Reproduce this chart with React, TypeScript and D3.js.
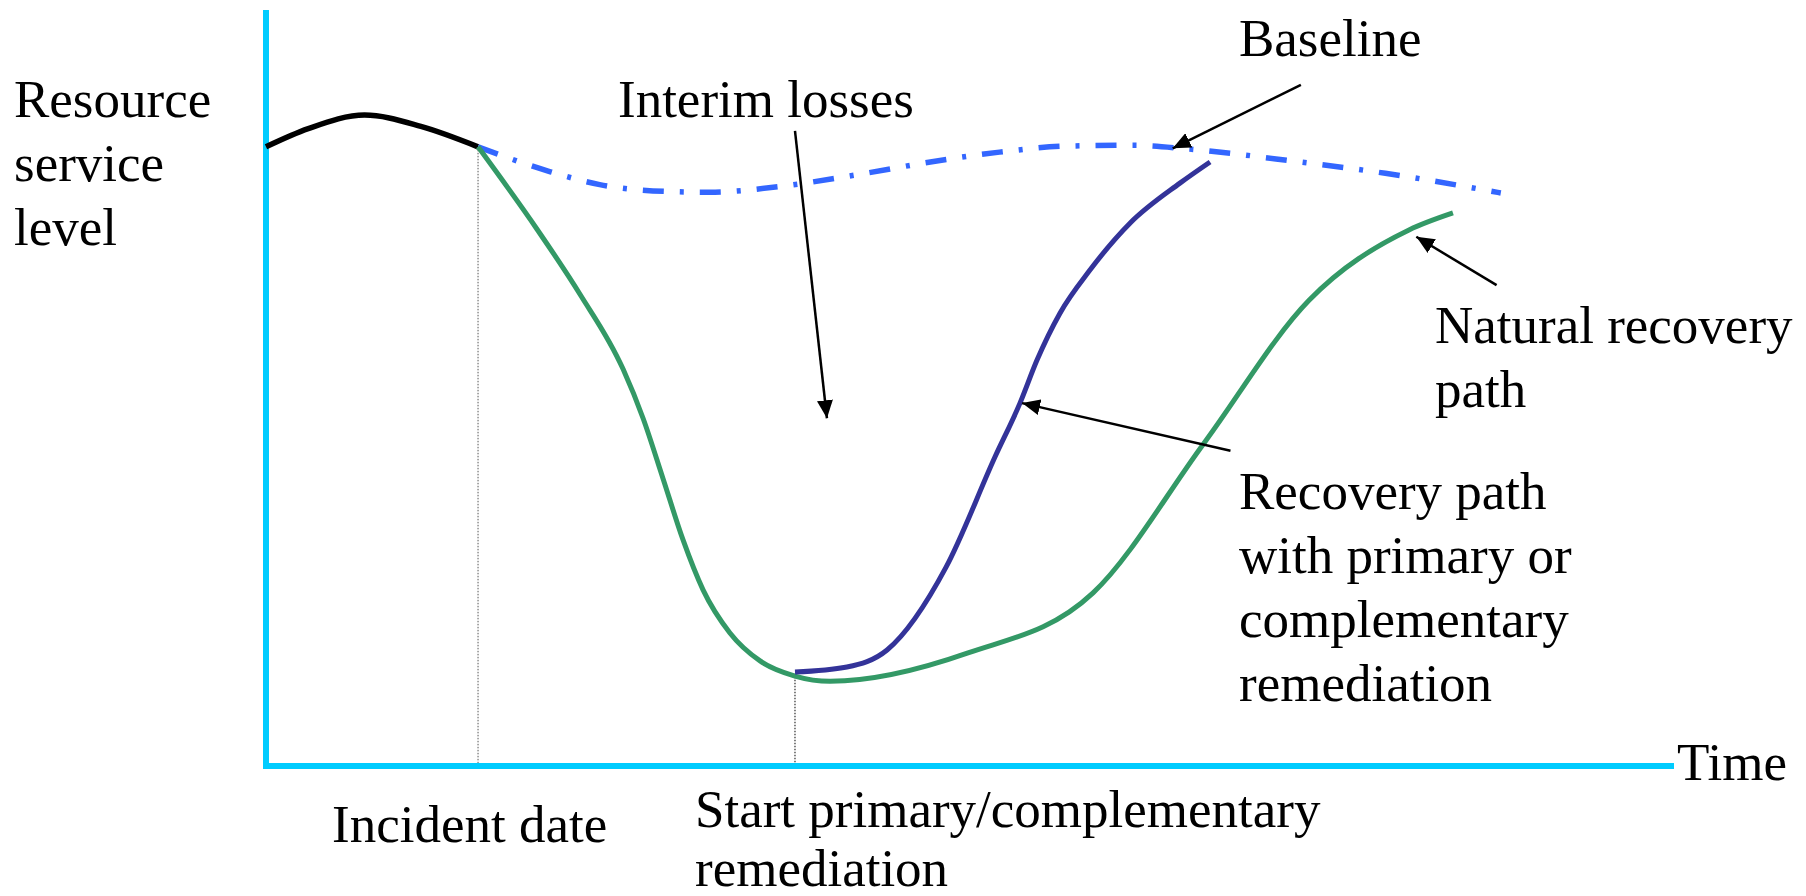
import React from 'react';
import * as d3 from 'd3';

const W = 1806;
const H = 896;

// time runs 0..100 along the x axis, resource service level 0..100 up the y axis
const preIncident = [[0, 81.9], [3, 84.3], [7, 86.1], [11, 84.6], [15.06, 81.9]];

const baseline = [
  [15.06, 81.9], [20.2, 78.6], [23.7, 76.9], [28.5, 76.0], [31.5, 75.9], [36.7, 76.7],
  [41.3, 78.0], [48.2, 80.2], [52.1, 81.2], [56.9, 82.0], [61.6, 82.1], [65.6, 81.6],
  [73.4, 79.9], [79.5, 78.4], [87.7, 75.8],
];

const naturalRecovery = [
  [15.06, 81.9], [19.25, 71.0], [22.3, 62.4], [25.36, 52.5], [26.78, 46.0], [28.2, 38.0],
  [29.62, 29.9], [31.04, 23.3], [32.95, 17.6], [35.09, 13.9], [37.57, 11.9], [40.06, 11.2],
  [49.86, 14.95], [58.74, 22.9], [66.62, 42.7], [74.08, 61.6], [81.18, 70.9], [84.3, 73.15],
];

const remediatedRecovery = [
  [37.57, 12.43], [41.26, 13.1], [44.11, 15.34], [48.3, 26.3], [51.78, 40.9], [53.55, 48.0],
  [54.76, 53.7], [56.39, 59.9], [58.52, 65.6], [61.36, 71.8], [64.91, 77.1], [67.05, 79.9],
];

const incidentDate = 15.06;
const remediationStart = 37.57;

// annotation arrows, tail -> tip, same units as the curves
const arrows = [
  { from: [73.5, 90.1], to: [64.4, 81.7] },  // Baseline
  { from: [37.57, 84.0], to: [39.84, 46.0] }, // Interim losses
  { from: [68.5, 41.7], to: [53.7, 48.0] },  // Recovery path with remediation
  { from: [87.4, 63.6], to: [81.7, 70.0] },  // Natural recovery path
];

const labels = [
  { lines: ['Resource', 'service', 'level'], x: 14, y: 117 },
  { lines: ['Interim losses'], x: 618, y: 117 },
  { lines: ['Baseline'], x: 1239, y: 56 },
  { lines: ['Natural recovery', 'path'], x: 1435, y: 343 },
  { lines: ['Recovery path', 'with primary or', 'complementary', 'remediation'], x: 1239, y: 509 },
  { lines: ['Time'], x: 1677, y: 780 },
  { lines: ['Incident date'], x: 332, y: 842 },
  { lines: ['Start primary/complementary', 'remediation'], x: 695, y: 827 },
];

export default function App() {
  const x = d3.scaleLinear().domain([0, 100]).range([266, 1674]);
  const y = d3.scaleLinear().domain([0, 100]).range([766, 10]);

  const line = d3.line<number[]>()
    .x(d => x(d[0]))
    .y(d => y(d[1]))
    .curve(d3.curveMonotoneX);

  const lineH = 64;
  const font = { fontFamily: "'Liberation Serif', 'Times New Roman', serif", fontSize: 53 };

  return (
    <svg width={W} height={H} style={{ position: 'absolute', left: 0, top: 0, background: '#fff' }}>
      <defs>
        <marker id="head" markerUnits="userSpaceOnUse" markerWidth={20} markerHeight={16}
          refX={18} refY={8} orient="auto">
          <path d="M0,0 L18,8 L0,16 Z" fill="#000" />
        </marker>
      </defs>

      {/* dotted drop lines */}
      <line x1={x(incidentDate)} x2={x(incidentDate)} y1={y(81.9)} y2={y(0) + 2}
        stroke="#555" strokeWidth={1} strokeDasharray="1.5,1.5" />
      <line x1={x(remediationStart)} x2={x(remediationStart)} y1={y(12.2)} y2={y(0) + 3}
        stroke="#000" strokeWidth={1} strokeDasharray="1.5,1.5" />

      {/* axes */}
      <line x1={x(0)} x2={x(0)} y1={y(0) - 3} y2={y(100)} stroke="#00CCFF" strokeWidth={6} />
      <line x1={x(0) - 3} x2={x(100)} y1={y(0)} y2={y(0)} stroke="#00CCFF" strokeWidth={6} />

      <path d={line(preIncident) || ''} fill="none" stroke="#000" strokeWidth={5.5} />
      <path d={line(baseline) || ''} fill="none" stroke="#3366FF" strokeWidth={5.5}
        strokeDasharray="21,16,4,16" />
      <path d={line(naturalRecovery) || ''} fill="none" stroke="#339966" strokeWidth={5} />
      <path d={line(remediatedRecovery) || ''} fill="none" stroke="#333399" strokeWidth={5} />

      {arrows.map((a, i) =>
        <line key={i} x1={x(a.from[0])} y1={y(a.from[1])} x2={x(a.to[0])} y2={y(a.to[1])}
          stroke="#000" strokeWidth={2.5} markerEnd="url(#head)" />
      )}

      {labels.map((l, i) =>
        <text key={i} x={l.x} y={l.y} fill="#000" style={font}>
          {l.lines.map((t, j) => <tspan key={j} x={l.x} y={Math.min(l.y + j * lineH, 886)}>{t}</tspan>)}
        </text>
      )}
    </svg>
  );
}
